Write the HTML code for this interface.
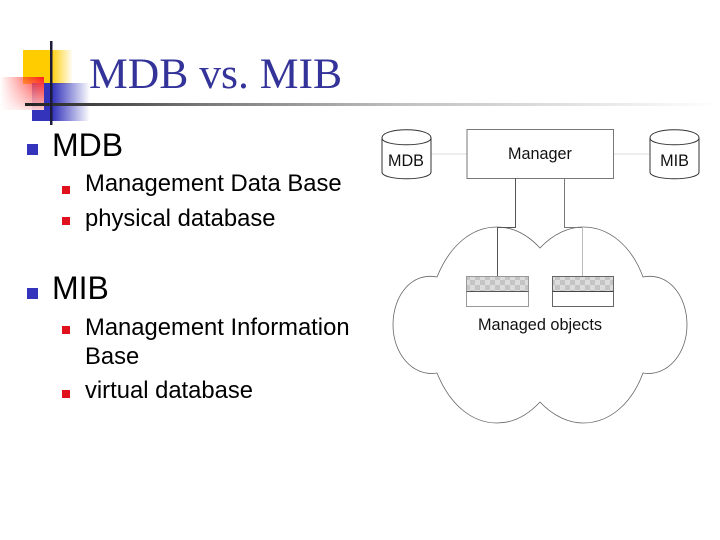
<!DOCTYPE html>
<html><head><meta charset="utf-8"><style>
html,body{margin:0;padding:0;background:#fff}
svg{display:block}
</style></head><body>
<svg xmlns="http://www.w3.org/2000/svg" width="720" height="540" viewBox="0 0 720 540">
<defs>
<linearGradient id="gy" x1="0" x2="1" y1="0" y2="0"><stop offset="0.55" stop-color="#ffcc00"/><stop offset="1" stop-color="#ffcc00" stop-opacity="0"/></linearGradient>
<linearGradient id="gr" x1="0" x2="1" y1="0" y2="0"><stop offset="0" stop-color="#ff3030" stop-opacity="0"/><stop offset="1" stop-color="#ff1a1a"/></linearGradient>
<linearGradient id="gb" x1="0" x2="1" y1="0" y2="0"><stop offset="0.35" stop-color="#3333bb"/><stop offset="1" stop-color="#3333bb" stop-opacity="0"/></linearGradient>
<linearGradient id="gl" x1="0" x2="1" y1="0" y2="0"><stop offset="0" stop-color="#222"/><stop offset="0.12" stop-color="#4a4a4a"/><stop offset="0.25" stop-color="#777"/><stop offset="0.54" stop-color="#c0c0c0"/><stop offset="1" stop-color="#fff"/></linearGradient>
<linearGradient id="gr2" x1="0" x2="0" y1="0" y2="1"><stop offset="0" stop-color="#fff" stop-opacity="0"/><stop offset="0.75" stop-color="#fff" stop-opacity="0.55"/><stop offset="1" stop-color="#fff" stop-opacity="0.8"/></linearGradient>
<pattern id="ck" width="10" height="10" patternUnits="userSpaceOnUse"><rect width="10" height="10" fill="#dcdcdc"/><rect width="5" height="5" fill="#c4c4c4"/><rect x="5" y="5" width="5" height="5" fill="#c4c4c4"/></pattern>
</defs>

<rect x="23" y="50" width="50" height="34" fill="url(#gy)"/>
<rect x="32" y="83" width="58" height="38" fill="url(#gb)"/>
<rect x="0" y="77" width="44" height="33" fill="url(#gr)"/>
<rect x="0" y="77" width="44" height="33" fill="url(#gr2)"/>
<rect x="25" y="103" width="695" height="3" fill="url(#gl)"/>
<rect x="50" y="41" width="2.5" height="84" fill="#1c1c3a"/>

<text x="89" y="88" font-family="'Liberation Serif',serif" font-size="43.6" fill="#333399">MDB vs. MIB</text>

<rect x="27" y="144" width="11" height="11" fill="#3333bb"/>
<text x="52" y="156" font-family="'Liberation Sans',sans-serif" font-size="32" fill="#000">MDB</text>
<rect x="62" y="186" width="8" height="8" fill="#e0101c"/>
<text x="85" y="191" font-family="'Liberation Sans',sans-serif" font-size="23.800" fill="#000">Management Data Base</text>
<rect x="62" y="217" width="8" height="8" fill="#e0101c"/>
<text x="85" y="226" font-family="'Liberation Sans',sans-serif" font-size="23.800" fill="#000">physical database</text>

<rect x="27" y="288" width="11" height="11" fill="#3333bb"/>
<text x="52" y="299" font-family="'Liberation Sans',sans-serif" font-size="32" fill="#000">MIB</text>
<rect x="62" y="326" width="8" height="8" fill="#e0101c"/>
<text x="85" y="335" font-family="'Liberation Sans',sans-serif" font-size="23.800" fill="#000">Management Information</text>
<text x="85" y="364" font-family="'Liberation Sans',sans-serif" font-size="23.800" fill="#000">Base</text>
<rect x="62" y="390" width="8" height="8" fill="#e0101c"/>
<text x="85" y="398" font-family="'Liberation Sans',sans-serif" font-size="23.800" fill="#000">virtual database</text>

<path d="M540 248 C526 233 512 227 497 227 C472 227 450 245 437 277 C412 272 393 295 393 325 C393 353 412 377 437 373 C450 405 472 423 497 423 C512 423 526 417 540 402 C554 417 570 423 583 423 C610 423 632 403 643 373 C668 377 687 353 687 325 C687 295 668 272 643 277 C632 247 610 227 583 227 C570 227 554 233 540 248 Z" fill="#fff" stroke="#666" stroke-width="0.8"/>

<line x1="431" y1="154" x2="467" y2="154" stroke="#ddd" stroke-width="1"/>
<line x1="613" y1="154" x2="649" y2="154" stroke="#ddd" stroke-width="1"/>
<rect x="467" y="129.500" width="146.500" height="49" fill="#fff" stroke="#777" stroke-width="1"/>
<text x="540" y="159" text-anchor="middle" font-family="'Liberation Sans',sans-serif" font-size="16.200" fill="#111">Manager</text>

<path d="M515.500 178 V227.500 H497.500 V276" fill="none" stroke="#555" stroke-width="1"/>
<path d="M564.500 178 V227.500 H582" fill="none" stroke="#777" stroke-width="1"/>
<line x1="582.500" y1="227" x2="582.500" y2="276" stroke="#bbb" stroke-width="1"/>

<path d="M382 138 C382 127 431 127 431 138 V172 C431 181 382 181 382 172 Z" fill="#fff" stroke="#333" stroke-width="1"/>
<path d="M382 138 C382 147 431 147 431 138" fill="none" stroke="#333" stroke-width="1"/>
<text x="406" y="166" text-anchor="middle" font-family="'Liberation Sans',sans-serif" font-size="16.200" fill="#111">MDB</text>
<path d="M650 138 C650 127 699 127 699 138 V172 C699 181 650 181 650 172 Z" fill="#fff" stroke="#333" stroke-width="1"/>
<path d="M650 138 C650 147 699 147 699 138" fill="none" stroke="#333" stroke-width="1"/>
<text x="674.500" y="166" text-anchor="middle" font-family="'Liberation Sans',sans-serif" font-size="16.200" fill="#111">MIB</text>

<rect x="466.500" y="276.500" width="62" height="15" fill="url(#ck)"/>
<rect x="466.500" y="276.500" width="62" height="30" fill="none" stroke="#999" stroke-width="1"/>
<line x1="466.500" y1="291.500" x2="528.500" y2="291.500" stroke="#555" stroke-width="1"/>
<rect x="552.500" y="276.500" width="61" height="15" fill="url(#ck)"/>
<rect x="552.500" y="276.500" width="61" height="30" fill="none" stroke="#666" stroke-width="1"/>
<line x1="552.500" y1="291.500" x2="613.500" y2="291.500" stroke="#444" stroke-width="1"/>
<text x="540" y="330" text-anchor="middle" font-family="'Liberation Sans',sans-serif" font-size="16.300" fill="#111">Managed objects</text>
</svg>
</body></html>
